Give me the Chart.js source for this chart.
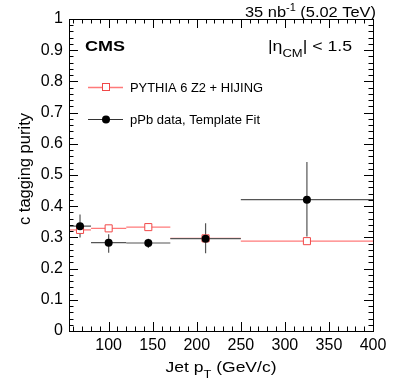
<!DOCTYPE html>
<html>
<head>
<meta charset="utf-8">
<script src="https://cdn.jsdelivr.net/npm/chart.js@4.4.1/dist/chart.umd.min.js"></script>
<style>
  body { margin: 0; background: #fff; }
  canvas { display: block; }
</style>
</head>
<body>
<canvas id="purityChart" width="407" height="391"></canvas>
<script>
// jet pT bins (GeV/c)
const binLow = [55, 80, 120, 170, 250];
const binHigh = [80, 120, 170, 250, 400];
const binCenter = [67.5, 100, 145, 210, 325];

// PYTHIA 6 Z2 + HIJING
const mcPurity = [0.324, 0.329, 0.333, 0.297, 0.288];

// pPb data, template fit
const dataPurity = [0.336, 0.283, 0.282, 0.296, 0.421];
const dataErrLow = [0.300, 0.251, 0.266, 0.249, 0.303];
const dataErrHigh = [0.373, 0.310, 0.296, 0.345, 0.542];

const xTicks = [100, 150, 200, 250, 300, 350, 400];

const FONT = '"Liberation Sans", Arial, Helvetica, sans-serif';

// draw a run of text pieces (sub/superscripts), stretched to a target width
function drawRuns(ctx, runs, x, y, align, targetWidth) {
  ctx.save();
  const widths = runs.map((r) => {
    ctx.font = (r[3] || "normal") + " " + r[1] + "px " + FONT;
    return ctx.measureText(r[0]).width;
  });
  const total = widths.reduce((a, b) => a + b, 0);
  const sx = targetWidth ? targetWidth / total : 1;
  const w = total * sx;
  let startX = x;
  if (align === "right") startX = x - w;
  if (align === "center") startX = x - w / 2;
  ctx.translate(startX, y);
  ctx.scale(sx, 1);
  ctx.fillStyle = "#000";
  ctx.textBaseline = "alphabetic";
  ctx.textAlign = "left";
  let cx = 0;
  runs.forEach((r, i) => {
    ctx.font = (r[3] || "normal") + " " + r[1] + "px " + FONT;
    ctx.fillText(r[0], cx, r[2]);
    cx += widths[i];
  });
  ctx.restore();
}

// horizontal bin-width bars and vertical error bars
const errorBars = {
  id: "errorBars",
  beforeDatasetsDraw(chart) {
    const ctx = chart.ctx;
    const xs = chart.scales.x;
    const ys = chart.scales.y;
    const area = chart.chartArea;
    ctx.save();
    ctx.beginPath();
    ctx.rect(area.left, area.top, area.right - area.left, area.bottom - area.top);
    ctx.clip();

    // MC: bin widths only
    ctx.strokeStyle = "#ff7a7a";
    ctx.lineWidth = 1.3;
    mcPurity.forEach((v, i) => {
      const y = ys.getPixelForValue(v);
      ctx.beginPath();
      ctx.moveTo(xs.getPixelForValue(binLow[i]), y);
      ctx.lineTo(xs.getPixelForValue(binHigh[i]), y);
      ctx.stroke();
    });

    // data: bin widths + stat errors
    ctx.strokeStyle = "#555";
    ctx.lineWidth = 1.2;
    dataPurity.forEach((v, i) => {
      const y = ys.getPixelForValue(v);
      const x = xs.getPixelForValue(binCenter[i]);
      ctx.beginPath();
      ctx.moveTo(xs.getPixelForValue(binLow[i]), y);
      ctx.lineTo(xs.getPixelForValue(binHigh[i]), y);
      ctx.moveTo(x, ys.getPixelForValue(dataErrLow[i]));
      ctx.lineTo(x, ys.getPixelForValue(dataErrHigh[i]));
      ctx.stroke();
    });
    ctx.restore();
  },
};

// ROOT style frame with inward ticks on all four sides, plus the labels
const frameAndText = {
  id: "frameAndText",
  afterDraw(chart) {
    const ctx = chart.ctx;
    const xs = chart.scales.x;
    const ys = chart.scales.y;
    const a = chart.chartArea;
    ctx.save();
    ctx.strokeStyle = "#000";
    ctx.lineWidth = 1;
    ctx.beginPath();
    // x ticks every 10, major every 50
    for (let v = 60; v <= 400; v += 10) {
      const x = Math.round(xs.getPixelForValue(v)) + 0.5;
      const len = v % 50 === 0 ? 9 : 4.5;
      ctx.moveTo(x, a.bottom);
      ctx.lineTo(x, a.bottom - len);
      ctx.moveTo(x, a.top);
      ctx.lineTo(x, a.top + len);
    }
    // y ticks every 0.02, major every 0.1
    for (let i = 0; i <= 50; i++) {
      const y = Math.round(ys.getPixelForValue(i / 50)) + 0.5;
      const len = i % 5 === 0 ? 9 : 4.5;
      ctx.moveTo(a.left, y);
      ctx.lineTo(a.left + len, y);
      ctx.moveTo(a.right, y);
      ctx.lineTo(a.right - len, y);
    }
    ctx.stroke();
    ctx.strokeRect(Math.round(a.left) + 0.5, Math.round(a.top) + 0.5,
      Math.round(a.right - a.left), Math.round(a.bottom - a.top));
    ctx.restore();

    // header and labels
    drawRuns(ctx, [["35 nb", 15, 0], ["-1", 10, -6], [" (5.02 TeV)", 15, 0]], 376, 17, "right", 131);
    drawRuns(ctx, [["CMS", 15, 0, "bold"]], 85, 51, "left", 40);
    drawRuns(ctx, [["|\u03b7", 15, 0], ["CM", 11, 6], ["| < 1.5", 15, 0]], 268, 51, "left", 84);

    // legend
    ctx.save();
    ctx.lineWidth = 1.3;
    ctx.strokeStyle = "#ff7a7a";
    ctx.beginPath();
    ctx.moveTo(88, 87.5);
    ctx.lineTo(123, 87.5);
    ctx.stroke();
    ctx.fillStyle = "#fff";
    ctx.fillRect(102, 83.5, 8, 8);
    ctx.strokeStyle = "#f04848";
    ctx.lineWidth = 1;
    ctx.strokeRect(102.5, 83.5, 7, 7);
    ctx.strokeStyle = "#333";
    ctx.lineWidth = 1.2;
    ctx.beginPath();
    ctx.moveTo(88, 119.5);
    ctx.lineTo(123, 119.5);
    ctx.stroke();
    ctx.fillStyle = "#000";
    ctx.beginPath();
    ctx.arc(106, 119.5, 4, 0, Math.PI * 2);
    ctx.fill();
    ctx.restore();
    drawRuns(ctx, [["PYTHIA 6 Z2 + HIJING", 13, 0]], 130, 92, "left", 133);
    drawRuns(ctx, [["pPb data, Template Fit", 13, 0]], 130, 124, "left", 130);

    // axis titles
    drawRuns(ctx, [["Jet p", 15, 0], ["T", 11, 6], [" (GeV/c)", 15, 0]], 221, 372, "center", 111);
    ctx.save();
    ctx.translate(29.5, 169);
    ctx.rotate(-Math.PI / 2);
    drawRuns(ctx, [["c tagging purity", 16, 0]], 0, 0, "center", 112);
    ctx.restore();
  },
};

const purityChart = new Chart(
  document.getElementById("purityChart").getContext("2d"),
  {
    type: "scatter",
    data: {
      datasets: [
        {
          label: "pPb data, Template Fit",
          data: binCenter.map((x, i) => ({ x: x, y: dataPurity[i] })),
          pointStyle: "circle",
          pointRadius: 4,
          pointBackgroundColor: "#000",
          pointBorderColor: "#000",
          pointBorderWidth: 0,
          showLine: false,
          order: 0, // on top
        },
        {
          label: "PYTHIA 6 Z2 + HIJING",
          data: binCenter.map((x, i) => ({ x: x, y: mcPurity[i] })),
          pointStyle: "rect",
          pointRadius: 5,
          pointBackgroundColor: "#fff",
          pointBorderColor: "#f04848",
          pointBorderWidth: 1,
          showLine: false,
          order: 1,
        },
      ],
    },
    options: {
      responsive: false,
      animation: false,
      events: [],
      layout: { padding: { left: 0, right: 34, top: 19, bottom: 0 } },
      plugins: {
        legend: { display: false },
        tooltip: { enabled: false },
      },
      scales: {
        x: {
          type: "linear",
          min: 55,
          max: 400,
          afterFit: (scale) => { scale.height = 60; },
          afterBuildTicks: (scale) => { scale.ticks = xTicks.map((v) => ({ value: v })); },
          ticks: {
            color: "#000",
            padding: 5,
            maxRotation: 0,
            font: { family: FONT, size: 16 },
          },
          grid: { display: false, drawTicks: false },
          border: { display: false },
        },
        y: {
          min: 0,
          max: 1,
          afterFit: (scale) => { scale.width = 69; },
          ticks: {
            stepSize: 0.1,
            color: "#000",
            padding: 6,
            font: { family: FONT, size: 16 },
            callback: (v) => String(Number(v.toFixed(2))),
          },
          grid: { display: false, drawTicks: false },
          border: { display: false },
        },
      },
    },
    plugins: [errorBars, frameAndText],
  }
);
</script>
</body>
</html>
